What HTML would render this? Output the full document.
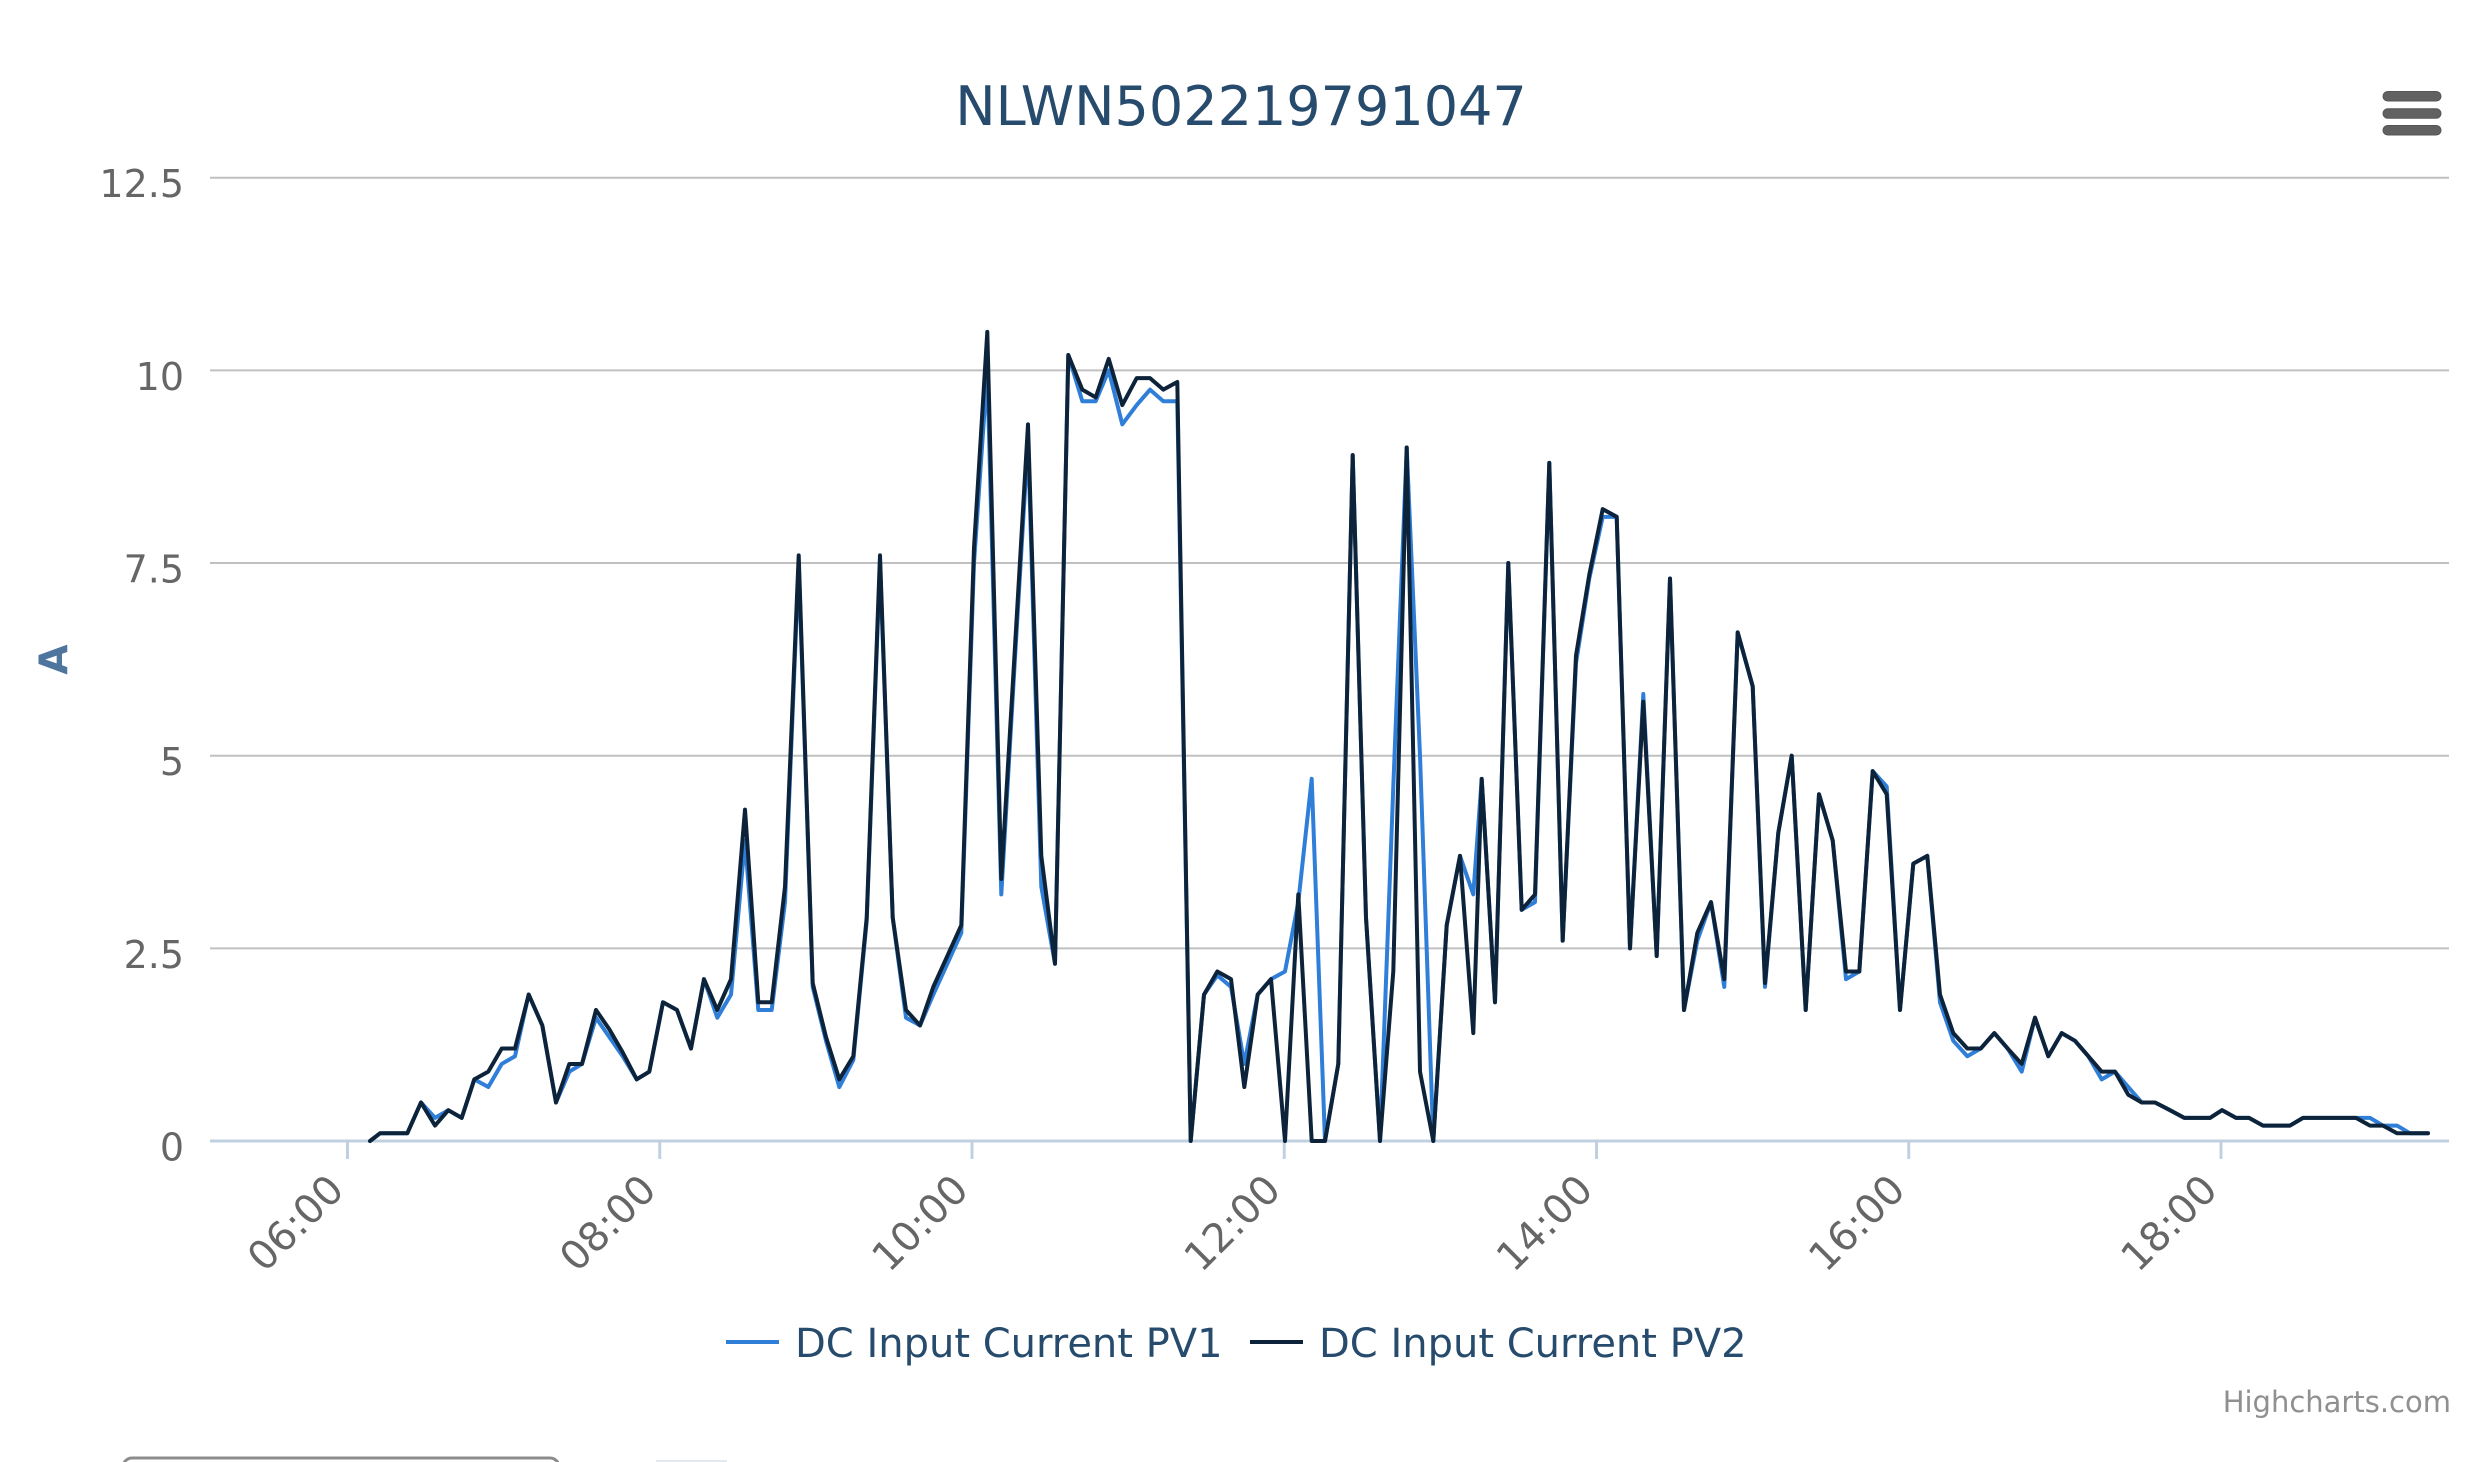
<!DOCTYPE html>
<html>
<head>
<meta charset="utf-8">
<style>
html,body{margin:0;padding:0;background:#fff;}
svg{display:block;}
text{font-family:"DejaVu Sans","Liberation Sans",sans-serif;}
</style>
</head>
<body>
<svg width="2480" height="1462" viewBox="0 0 2480 1462" xmlns="http://www.w3.org/2000/svg">
<rect x="0" y="0" width="2480" height="1462" fill="#ffffff"/>

<!-- title -->
<text x="1241" y="125" font-size="54" fill="#274b6d" text-anchor="middle">NLWN502219791047</text>

<!-- menu icon -->
<g fill="#616161" stroke="#555" stroke-width="1">
<rect x="2383" y="91.5" width="58" height="9.5" rx="4.75"/>
<rect x="2383" y="108.75" width="58" height="9.5" rx="4.75"/>
<rect x="2383" y="125.5" width="58" height="9.5" rx="4.75"/>
</g>

<!-- grid lines -->
<g stroke="#C0C0C0" stroke-width="2">
<line x1="210" y1="177.75" x2="2449" y2="177.75"/>
<line x1="210" y1="370.4" x2="2449" y2="370.4"/>
<line x1="210" y1="563.05" x2="2449" y2="563.05"/>
<line x1="210" y1="755.7" x2="2449" y2="755.7"/>
<line x1="210" y1="948.35" x2="2449" y2="948.35"/>
</g>

<!-- y labels -->
<g font-size="38" fill="#666666" text-anchor="end">
<text x="184" y="197">12.5</text>
<text x="184" y="390">10</text>
<text x="184" y="582.5">7.5</text>
<text x="184" y="775">5</text>
<text x="184" y="968">2.5</text>
<text x="184" y="1160.5">0</text>
</g>

<!-- y axis title -->
<text transform="translate(67,659.5) rotate(-90)" font-size="39" font-weight="bold" fill="#4d759e" text-anchor="middle">A</text>

<!-- x axis line and ticks -->
<line x1="210" y1="1141" x2="2449" y2="1141" stroke="#C0D0E0" stroke-width="3"/>
<g stroke="#C0D0E0" stroke-width="3">
<line x1="347.5" y1="1141" x2="347.5" y2="1159"/>
<line x1="659.75" y1="1141" x2="659.75" y2="1159"/>
<line x1="972" y1="1141" x2="972" y2="1159"/>
<line x1="1284.25" y1="1141" x2="1284.25" y2="1159"/>
<line x1="1596.5" y1="1141" x2="1596.5" y2="1159"/>
<line x1="1908.75" y1="1141" x2="1908.75" y2="1159"/>
<line x1="2221" y1="1141" x2="2221" y2="1159"/>
</g>

<!-- x labels -->
<g font-size="40" fill="#666666" text-anchor="end">
<text transform="translate(346,1192) rotate(-45)">06:00</text>
<text transform="translate(658.25,1192) rotate(-45)">08:00</text>
<text transform="translate(970.5,1192) rotate(-45)">10:00</text>
<text transform="translate(1282.75,1192) rotate(-45)">12:00</text>
<text transform="translate(1595,1192) rotate(-45)">14:00</text>
<text transform="translate(1907.25,1192) rotate(-45)">16:00</text>
<text transform="translate(2219.5,1192) rotate(-45)">18:00</text>
</g>

<!-- series -->
<g transform="matrix(1 0 0 -77.06 0 1141)" fill="none" stroke-linejoin="round" stroke-linecap="round">
<polyline vector-effect="non-scaling-stroke" stroke="#2f7ed8" stroke-width="4" points="370,0 380,0.1 393.7,0.1 407.3,0.1 421,0.5 435,0.3 448.3,0.4 461.7,0.3 474.3,0.8 488.3,0.7 501.7,1.0 515,1.1 528.7,1.9 542.3,1.5 556,0.5 569.3,0.9 582,1.0 596,1.6 609.3,1.35 622.7,1.1 636.7,0.8 649.3,0.9 663,1.8 677,1.7 691,1.2 704,2.1 717.3,1.6 731,1.9 745,3.9 758.3,1.7 771.7,1.7 785,3.1 798.7,7.5 812.7,2.0 826,1.3 839.3,0.7 853.3,1.05 866.7,2.85 880,7.5 892.7,2.9 906,1.6 920,1.5 933.3,1.9 947.3,2.3 961.3,2.7 974,7.5 987.3,10.0 1001.3,3.2 1014.7,6.2 1028,9.1 1041.3,3.3 1055,2.3 1068.3,10.2 1082.3,9.6 1095.7,9.6 1108.7,10.0 1122.3,9.3 1136.7,9.55 1150,9.75 1163.3,9.6 1177.3,9.6 1190.7,0 1204,1.9 1217.3,2.15 1231,2.0 1244.3,1.0 1257.7,1.9 1271,2.1 1285,2.2 1298.3,3.1 1311.7,4.7 1325,0 1338.3,1.0 1352.7,8.9 1366,2.9 1380,0 1393.3,4.6 1406.7,9.0 1420,5.0 1433.3,0 1446.7,2.8 1460,3.7 1473.3,3.2 1481.7,4.7 1495,1.8 1508.3,7.5 1521.7,3.0 1535,3.1 1549.3,8.8 1562.7,2.6 1576,6.2 1589.3,7.3 1602.7,8.1 1616.7,8.1 1630,2.5 1643.3,5.8 1656.7,2.4 1670,7.3 1684,1.7 1697.3,2.6 1711,3.1 1724.3,2.0 1737.7,6.6 1752.7,5.9 1765,2.0 1778.3,4.0 1791.7,5.0 1805.7,1.7 1819,4.5 1832.7,3.9 1846,2.1 1859.3,2.2 1872.7,4.8 1886.7,4.6 1900,1.7 1913.3,3.6 1927.3,3.7 1940,1.8 1953.3,1.3 1967.3,1.1 1980.7,1.2 1994.3,1.4 2007.7,1.2 2021.7,0.9 2035,1.6 2048.3,1.1 2061.7,1.4 2075,1.3 2088.3,1.1 2101.7,0.8 2115,0.9 2128.3,0.7 2141.7,0.5 2155,0.5 2170,0.4 2184.3,0.3 2197.7,0.3 2210,0.3 2222,0.4 2236,0.3 2249,0.3 2263,0.2 2276,0.2 2290,0.2 2303,0.3 2316,0.3 2330,0.3 2343,0.3 2356,0.3 2370,0.3 2383,0.2 2397,0.2 2410,0.1 2428,0.1"/>
<polyline vector-effect="non-scaling-stroke" stroke="#0d233a" stroke-width="4" points="370,0 380,0.1 393.7,0.1 407.3,0.1 421,0.5 435,0.2 448.3,0.4 461.7,0.3 474.3,0.8 488.3,0.9 501.7,1.2 515,1.2 528.7,1.9 542.3,1.5 556,0.5 569.3,1.0 582,1.0 596,1.7 609.3,1.45 622.7,1.15 636.7,0.8 649.3,0.9 663,1.8 677,1.7 691,1.2 704,2.1 717.3,1.7 731,2.1 745,4.3 758.3,1.8 771.7,1.8 785,3.3 798.7,7.6 812.7,2.05 826,1.35 839.3,0.8 853.3,1.1 866.7,2.9 880,7.6 892.7,2.9 906,1.7 920,1.5 933.3,2.0 947.3,2.4 961.3,2.8 974,7.7 987.3,10.5 1001.3,3.4 1014.7,6.35 1028,9.3 1041.3,3.7 1055,2.3 1068.3,10.2 1082.3,9.75 1095.7,9.65 1108.7,10.15 1122.3,9.55 1136.7,9.9 1150,9.9 1163.3,9.75 1177.3,9.85 1190.7,0 1204,1.9 1217.3,2.2 1231,2.1 1244.3,0.7 1257.7,1.9 1271,2.1 1285,0 1298.3,3.2 1311.7,0 1325,0 1338.3,1.0 1352.7,8.9 1366,2.9 1380,0 1393.3,2.2 1406.7,9.0 1420,0.9 1433.3,0 1446.7,2.8 1460,3.7 1473.3,1.4 1481.7,4.7 1495,1.8 1508.3,7.5 1521.7,3.0 1535,3.2 1549.3,8.8 1562.7,2.6 1576,6.3 1589.3,7.35 1602.7,8.2 1616.7,8.1 1630,2.5 1643.3,5.7 1656.7,2.4 1670,7.3 1684,1.7 1697.3,2.7 1711,3.1 1724.3,2.1 1737.7,6.6 1752.7,5.9 1765,2.05 1778.3,4.0 1791.7,5.0 1805.7,1.7 1819,4.5 1832.7,3.9 1846,2.2 1859.3,2.2 1872.7,4.8 1886.7,4.5 1900,1.7 1913.3,3.6 1927.3,3.7 1940,1.9 1953.3,1.4 1967.3,1.2 1980.7,1.2 1994.3,1.4 2007.7,1.2 2021.7,1.0 2035,1.6 2048.3,1.1 2061.7,1.4 2075,1.3 2088.3,1.1 2101.7,0.9 2115,0.9 2128.3,0.6 2141.7,0.5 2155,0.5 2170,0.4 2184.3,0.3 2197.7,0.3 2210,0.3 2222,0.4 2236,0.3 2249,0.3 2263,0.2 2276,0.2 2290,0.2 2303,0.3 2316,0.3 2330,0.3 2343,0.3 2356,0.3 2370,0.2 2383,0.2 2397,0.1 2410,0.1 2428,0.1"/>
</g>

<!-- legend -->
<line x1="726" y1="1342" x2="779" y2="1342" stroke="#2f7ed8" stroke-width="4"/>
<text x="795" y="1357" font-size="40" fill="#274b6d">DC Input Current PV1</text>
<line x1="1250" y1="1342" x2="1303" y2="1342" stroke="#0d233a" stroke-width="4"/>
<text x="1319" y="1357" font-size="40" fill="#274b6d">DC Input Current PV2</text>

<!-- credits -->
<text x="2451" y="1412" font-size="29" fill="#909090" text-anchor="end">Highcharts.com</text>

<!-- bottom partial elements -->
<rect x="123" y="1458" width="436" height="30" rx="9" fill="#ffffff" stroke="#8c8c8c" stroke-width="3"/>
<line x1="656" y1="1461" x2="727" y2="1461" stroke="#e4e8f0" stroke-width="2"/>
</svg>
</body>
</html>
